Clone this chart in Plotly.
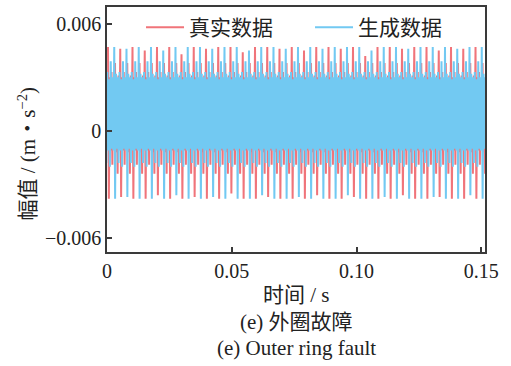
import numpy as np
import plotly.graph_objects as go

# ---- data (values in units of 0.001 m/s^2) ----
SCALE = 1e-3
PERIOD = 0.00491          # impulse period, s
RED_T0 = 0.0004           # first red impulse
BLUE_T0 = 0.0029 - PERIOD # blue impulses offset by about half a period

red_peak = [4.7, 4.6, 4.7, 4.5, 4.7, 4.7, 4.3, 4.7, 4.6, 4.7, 4.7, 4.4, 4.7, 4.7, 4.6, 4.7,
            4.5, 4.7, 4.7, 4.6, 4.7, 4.2, 4.7, 4.7, 4.6, 4.7, 4.7, 4.5, 4.7, 4.6, 4.7, 4.7]
red_trough = [-3.8, -3.7, -3.8, -3.8, -3.6, -3.8, -3.8, -3.7, -3.8, -3.8, -3.5, -3.8, -3.8, -3.7, -3.8, -3.8,
              -3.8, -3.6, -3.8, -3.8, -3.7, -3.8, -3.8, -3.8, -3.6, -3.8, -3.8, -3.7, -3.8, -3.8, -3.8, -3.7]
red_ring = [3.0, -1.1, 3.3, -1.9, 2.9, -0.9, 3.8, -1.2, 2.8, -2.4, 3.1, -0.8]

blue_peak = [4.7, 4.7, 4.6, 4.7, 4.7, 4.5, 4.7, 4.7, 4.7, 4.6, 4.7, 4.7, 4.5, 4.7, 4.7, 4.6,
             4.7, 4.7, 4.6, 4.7, 4.7, 4.7, 4.5, 4.7, 4.7, 4.6, 4.7, 4.7, 4.7, 4.6, 4.7, 4.7]
blue_trough = [-3.8, -3.8, -3.7, -3.8, -3.8, -3.8, -3.6, -3.8, -3.8, -3.7, -3.8, -3.8, -3.8, -3.6, -3.8, -3.8,
               -3.7, -3.8, -3.8, -3.8, -3.6, -3.8, -3.8, -3.7, -3.8, -3.8, -3.8, -3.7, -3.8, -3.8, -3.6, -3.8]
blue_ring = [3.2, -1.0, 3.0, -1.8, 3.3, -1.1, 2.9, -2.0, 3.9, -1.0, 3.0, -1.1]

x_tickvals = [0, 0.05, 0.10, 0.15]
x_ticktext = ["0", "0.05", "0.10", "0.15"]
y_tickvals = [-0.006, 0, 0.006]
y_ticktext = ["\u22120.006", "0", "0.006"]

RED = "#F0747A"
BLUE = "#72C9F2"


def build(t0, peaks, troughs, ring):
    per_cycle = 2 + len(ring)
    dt = PERIOD / per_cycle
    ts, vs = [], []
    for i, (p, q) in enumerate(zip(peaks, troughs)):
        vals = [p, q] + ring
        for j, v in enumerate(vals):
            ts.append(t0 + i * PERIOD + j * dt)
            vs.append(v * SCALE)
    return np.array(ts), np.array(vs)


tr, vr = build(RED_T0, red_peak, red_trough, red_ring)
tb, vb = build(BLUE_T0, blue_peak, blue_trough, blue_ring)

FONT = "Liberation Serif, Times New Roman, Noto Sans CJK SC, serif"
TXT = "#222"

fig = go.Figure()
fig.add_trace(go.Scatter(x=tr, y=vr, mode="lines", name="真实数据",
                         line=dict(color=RED, width=2)))
fig.add_trace(go.Scatter(x=tb, y=vb, mode="lines", name="生成数据",
                         line=dict(color=BLUE, width=2)))

axis_common = dict(showline=True, linecolor="#3a3a3a", linewidth=1.5, mirror=True,
                   ticks="inside", ticklen=5, tickwidth=1.5, tickcolor="#3a3a3a",
                   showgrid=False, zeroline=False,
                   tickfont=dict(family=FONT, size=20, color=TXT))

fig.update_xaxes(range=[0, 0.1515], tickvals=x_tickvals, ticktext=x_ticktext, **axis_common)
fig.update_yaxes(range=[-0.00678, 0.00694], tickvals=y_tickvals, ticktext=y_ticktext, **axis_common)

fig.update_layout(
    width=511, height=366,
    margin=dict(l=107, r=26, t=5, b=114),
    paper_bgcolor="white", plot_bgcolor="white",
    showlegend=True,
    legend=dict(orientation="h", x=0.09, y=1.0, xanchor="left", yanchor="top",
                bgcolor="rgba(0,0,0,0)", font=dict(family=FONT, size=21, color=TXT),
                entrywidth=116, itemwidth=38, traceorder="normal"),
    font=dict(family=FONT, size=21, color=TXT),
    annotations=[
        dict(text="时间 / s", xref="paper", yref="paper", x=0.5, y=0, yanchor="middle",
             yshift=-43, showarrow=False, font=dict(family=FONT, size=21, color=TXT)),
        dict(text="(e) 外圈故障", xref="paper", yref="paper", x=0.5, y=0, yanchor="middle",
             yshift=-70, showarrow=False, font=dict(family=FONT, size=21, color=TXT)),
        dict(text="(e) Outer ring fault", xref="paper", yref="paper", x=0.5, y=0, yanchor="middle",
             yshift=-96, showarrow=False, font=dict(family=FONT, size=21, color=TXT)),
        dict(text="幅值 / (m・s<sup>−2</sup>)", xref="paper", yref="paper", x=0, y=0.5,
             xanchor="center", yanchor="middle", xshift=-80, yshift=-25, textangle=-90,
             showarrow=False, font=dict(family=FONT, size=21, color=TXT)),
    ],
)

fig.write_html("out.html")
